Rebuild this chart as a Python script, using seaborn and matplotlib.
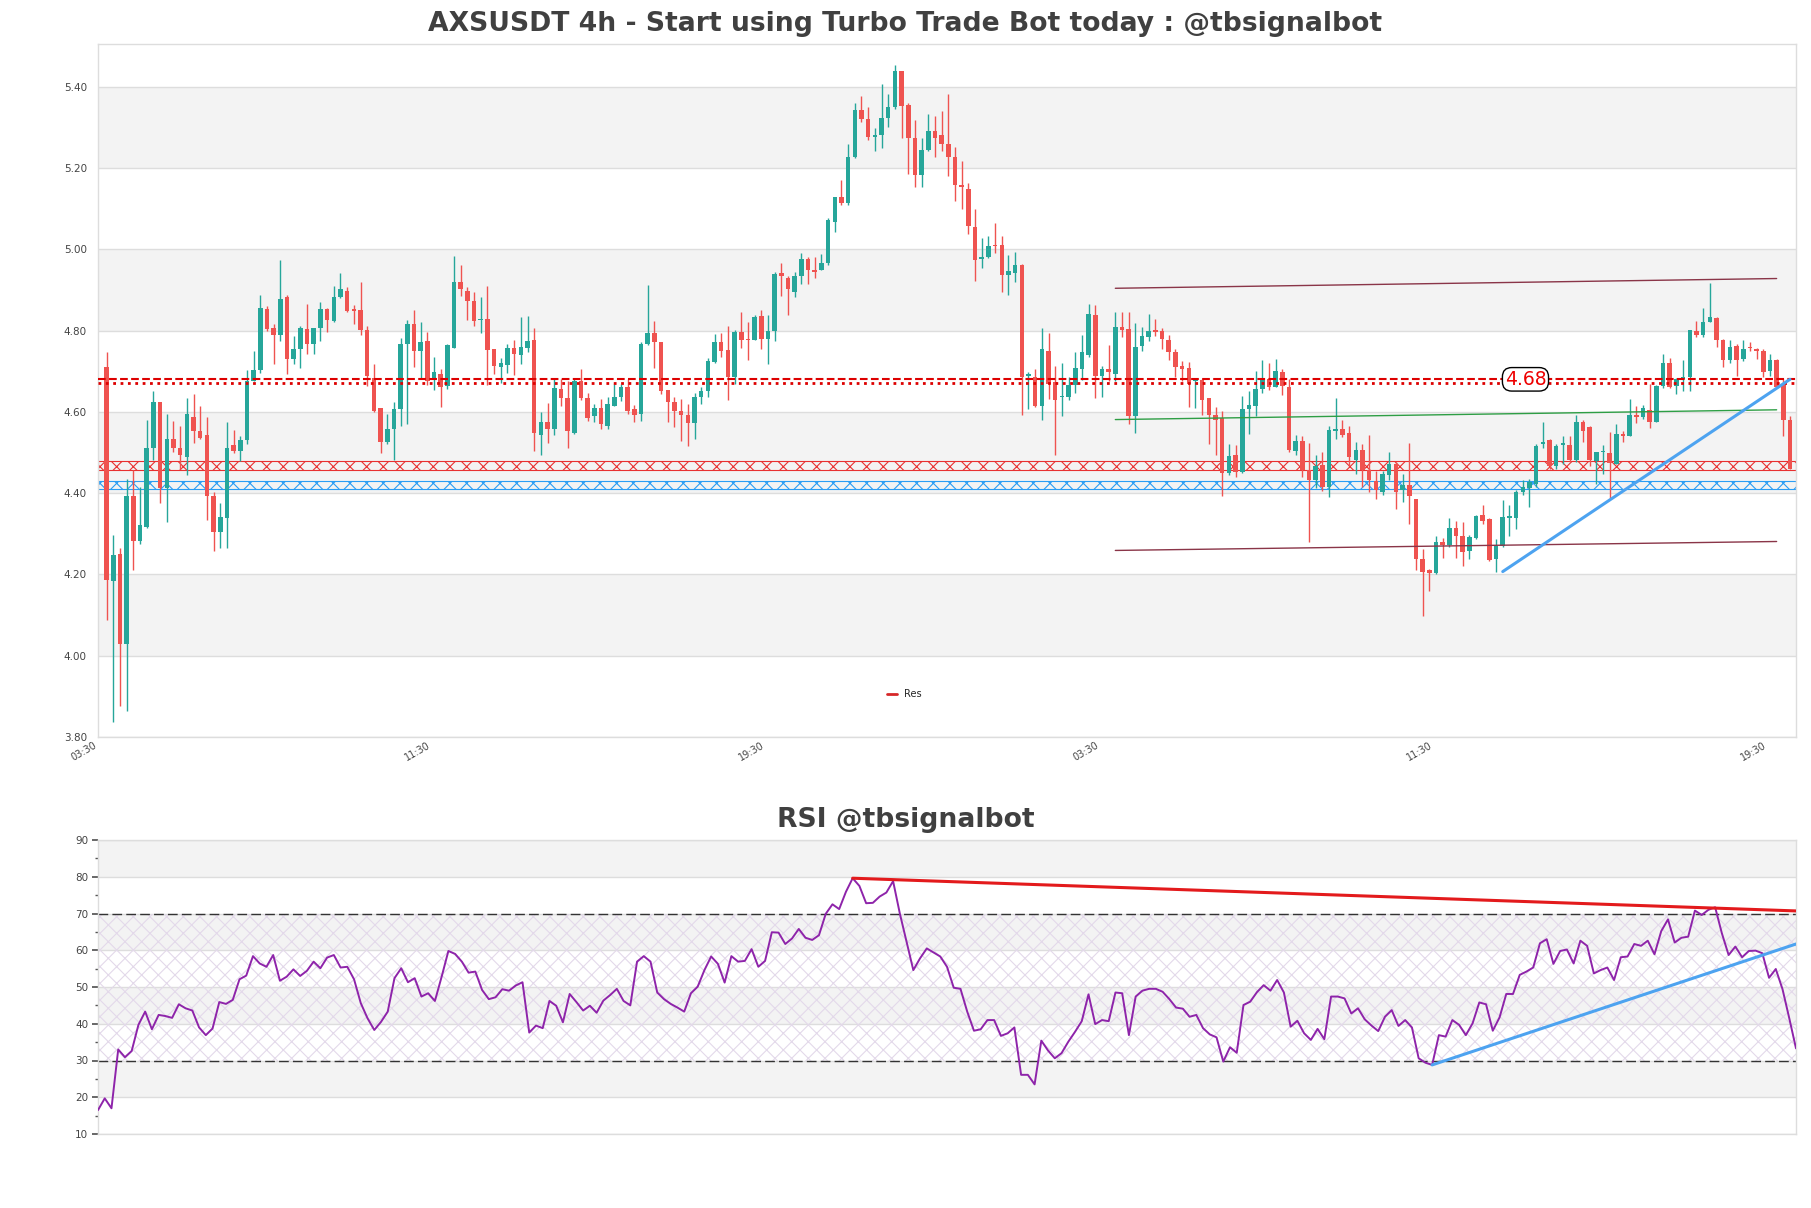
import numpy as np
import pandas as pd
import matplotlib
matplotlib.use("Agg")
import matplotlib.pyplot as plt
import seaborn as sns
from matplotlib.lines import Line2D
from matplotlib.ticker import MultipleLocator

# ---------------- data ----------------
opens = [4.71, 4.185, 4.251, 4.029, 4.394, 4.281, 4.317, 4.511, 4.623, 4.413,
         4.534, 4.512, 4.49, 4.587, 4.552, 4.543, 4.392, 4.305, 4.339, 4.519,
         4.504, 4.531, 4.677, 4.702, 4.853, 4.807, 4.79, 4.882, 4.729, 4.755,
         4.804, 4.766, 4.807, 4.853, 4.823, 4.882, 4.897, 4.853, 4.851, 4.801,
         4.684, 4.609, 4.526, 4.559, 4.606, 4.768, 4.817, 4.749, 4.774, 4.68,
         4.694, 4.664, 4.757, 4.919, 4.898, 4.873, 4.826, 4.829, 4.754, 4.71,
         4.716, 4.757, 4.741, 4.757, 4.776, 4.543, 4.574, 4.559, 4.655, 4.633,
         4.548, 4.675, 4.634, 4.589, 4.609, 4.565, 4.614, 4.636, 4.662, 4.606,
         4.594, 4.768, 4.794, 4.771, 4.654, 4.625, 4.603, 4.592, 4.572, 4.636,
         4.651, 4.722, 4.772, 4.752, 4.686, 4.796, 4.779, 4.776, 4.836, 4.779,
         4.799, 4.941, 4.93, 4.895, 4.933, 4.977, 4.948, 4.948, 4.966, 5.066,
         5.128, 5.115, 5.228, 5.343, 5.321, 5.276, 5.282, 5.323, 5.351, 5.439,
         5.356, 5.274, 5.183, 5.243, 5.29, 5.28, 5.26, 5.227, 5.159, 5.148,
         5.054, 4.975, 4.981, 5.008, 5.01, 4.936, 4.942, 4.961, 4.688, 4.686,
         4.614, 4.75, 4.673, 4.636, 4.636, 4.666, 4.706, 4.741, 4.838, 4.689,
         4.706, 4.694, 4.809, 4.804, 4.589, 4.763, 4.785, 4.801, 4.799, 4.777,
         4.746, 4.713, 4.708, 4.675, 4.678, 4.633, 4.592, 4.584, 4.449, 4.493,
         4.451, 4.606, 4.614, 4.655, 4.68, 4.66, 4.697, 4.66, 4.504, 4.528,
         4.458, 4.433, 4.469, 4.416, 4.554, 4.559, 4.548, 4.482, 4.506, 4.458,
         4.431, 4.402, 4.444, 4.471, 4.408, 4.42, 4.386, 4.237, 4.21, 4.204,
         4.279, 4.273, 4.314, 4.295, 4.257, 4.29, 4.347, 4.337, 4.237, 4.27,
         4.339, 4.339, 4.402, 4.413, 4.422, 4.521, 4.53, 4.466, 4.519, 4.519,
         4.482, 4.574, 4.562, 4.48, 4.501, 4.499, 4.471, 4.545, 4.541, 4.592,
         4.587, 4.605, 4.576, 4.664, 4.719, 4.664, 4.68, 4.686, 4.799, 4.79,
         4.821, 4.832, 4.777, 4.727, 4.763, 4.73, 4.76, 4.755, 4.75, 4.70,
         4.727, 4.667, 4.581]
highs = [4.746, 4.297, 4.266, 4.435, 4.458, 4.416, 4.58, 4.651, 4.625, 4.595,
         4.578, 4.565, 4.633, 4.644, 4.614, 4.587, 4.402, 4.375, 4.574, 4.556,
         4.541, 4.702, 4.75, 4.888, 4.86, 4.817, 4.973, 4.887, 4.787, 4.811,
         4.865, 4.807, 4.87, 4.856, 4.909, 4.942, 4.908, 4.862, 4.92, 4.812,
         4.717, 4.609, 4.595, 4.625, 4.782, 4.826, 4.851, 4.82, 4.796, 4.735,
         4.706, 4.768, 4.983, 4.961, 4.908, 4.895, 4.882, 4.91, 4.754, 4.733,
         4.766, 4.776, 4.834, 4.837, 4.807, 4.599, 4.622, 4.684, 4.68, 4.675,
         4.684, 4.706, 4.647, 4.62, 4.631, 4.636, 4.669, 4.669, 4.68, 4.618,
         4.771, 4.911, 4.824, 4.771, 4.654, 4.636, 4.631, 4.62, 4.647, 4.662,
         4.732, 4.791, 4.794, 4.81, 4.801, 4.845, 4.82, 4.838, 4.851, 4.838,
         4.944, 4.966, 4.933, 4.944, 4.991, 4.981, 4.981, 4.988, 5.076, 5.128,
         5.17, 5.258, 5.36, 5.376, 5.349, 5.299, 5.406, 5.381, 5.454, 5.439,
         5.36, 5.318, 5.274, 5.332, 5.327, 5.34, 5.381, 5.252, 5.216, 5.162,
         5.098, 5.027, 5.032, 5.065, 5.032, 4.986, 4.994, 4.963, 4.697, 4.706,
         4.807, 4.794, 4.713, 4.719, 4.686, 4.746, 4.79, 4.865, 4.862, 4.713,
         4.765, 4.845, 4.845, 4.845, 4.818, 4.809, 4.84, 4.829, 4.807, 4.79,
         4.754, 4.724, 4.722, 4.684, 4.68, 4.633, 4.611, 4.603, 4.521, 4.518,
         4.64, 4.651, 4.70, 4.728, 4.719, 4.73, 4.706, 4.68, 4.543, 4.541,
         4.523, 4.493, 4.501, 4.565, 4.633, 4.581, 4.565, 4.526, 4.521, 4.543,
         4.455, 4.455, 4.501, 4.477, 4.446, 4.523, 4.386, 4.262, 4.213, 4.295,
         4.29, 4.339, 4.332, 4.329, 4.297, 4.345, 4.372, 4.339, 4.288, 4.383,
         4.372, 4.408, 4.433, 4.435, 4.521, 4.574, 4.534, 4.521, 4.54, 4.54,
         4.592, 4.581, 4.565, 4.502, 4.518, 4.551, 4.57, 4.554, 4.631, 4.614,
         4.618, 4.669, 4.666, 4.743, 4.733, 4.684, 4.728, 4.801, 4.823, 4.856,
         4.917, 4.834, 4.779, 4.776, 4.768, 4.776, 4.771, 4.757, 4.754, 4.743,
         4.73, 4.68, 4.589]
lows = [4.089, 3.837, 3.877, 3.863, 4.212, 4.276, 4.314, 4.482, 4.375, 4.33,
        4.50, 4.46, 4.444, 4.523, 4.532, 4.334, 4.257, 4.265, 4.265, 4.499,
        4.48, 4.521, 4.677, 4.696, 4.80, 4.718, 4.774, 4.694, 4.717, 4.707,
        4.743, 4.743, 4.774, 4.796, 4.82, 4.879, 4.845, 4.816, 4.788, 4.664,
        4.60, 4.499, 4.521, 4.482, 4.564, 4.57, 4.71, 4.684, 4.666, 4.654,
        4.611, 4.655, 4.757, 4.884, 4.826, 4.81, 4.793, 4.666, 4.694, 4.672,
        4.695, 4.691, 4.717, 4.746, 4.504, 4.495, 4.523, 4.543, 4.614, 4.512,
        4.545, 4.629, 4.578, 4.576, 4.559, 4.559, 4.614, 4.627, 4.594, 4.574,
        4.578, 4.765, 4.708, 4.644, 4.574, 4.563, 4.529, 4.515, 4.532, 4.62,
        4.636, 4.719, 4.735, 4.628, 4.669, 4.757, 4.727, 4.776, 4.754, 4.717,
        4.774, 4.885, 4.838, 4.882, 4.915, 4.914, 4.929, 4.948, 4.961, 5.043,
        5.11, 5.11, 5.225, 5.313, 5.269, 5.241, 5.249, 5.302, 5.345, 5.274,
        5.186, 5.153, 5.153, 5.241, 5.226, 5.241, 5.18, 5.118, 5.10, 5.038,
        4.922, 4.955, 4.978, 4.99, 4.895, 4.887, 4.919, 4.592, 4.606, 4.611,
        4.581, 4.631, 4.493, 4.589, 4.628, 4.647, 4.678, 4.735, 4.634, 4.636,
        4.677, 4.675, 4.785, 4.57, 4.548, 4.75, 4.774, 4.787, 4.754, 4.728,
        4.686, 4.675, 4.612, 4.609, 4.592, 4.521, 4.495, 4.394, 4.444, 4.44,
        4.449, 4.545, 4.589, 4.647, 4.653, 4.66, 4.642, 4.501, 4.495, 4.44,
        4.279, 4.413, 4.405, 4.391, 4.532, 4.537, 4.466, 4.446, 4.416, 4.402,
        4.386, 4.396, 4.433, 4.361, 4.378, 4.323, 4.211, 4.097, 4.16, 4.202,
        4.24, 4.268, 4.24, 4.22, 4.238, 4.288, 4.323, 4.232, 4.207, 4.268,
        4.295, 4.312, 4.396, 4.367, 4.416, 4.512, 4.46, 4.46, 4.471, 4.477,
        4.477, 4.526, 4.466, 4.422, 4.447, 4.389, 4.471, 4.526, 4.541, 4.572,
        4.583, 4.561, 4.574, 4.658, 4.658, 4.645, 4.651, 4.651, 4.785, 4.785,
        4.821, 4.76, 4.71, 4.721, 4.689, 4.726, 4.749, 4.73, 4.686, 4.689,
        4.658, 4.541, 4.46]
closes = [4.186, 4.249, 4.029, 4.394, 4.281, 4.321, 4.511, 4.623, 4.413, 4.534,
          4.512, 4.493, 4.595, 4.552, 4.535, 4.392, 4.305, 4.342, 4.511, 4.504,
          4.531, 4.677, 4.702, 4.856, 4.804, 4.79, 4.878, 4.729, 4.755, 4.807,
          4.766, 4.807, 4.853, 4.826, 4.882, 4.903, 4.849, 4.849, 4.801, 4.688,
          4.603, 4.526, 4.559, 4.606, 4.768, 4.817, 4.749, 4.773, 4.677, 4.697,
          4.66, 4.765, 4.919, 4.902, 4.873, 4.823, 4.829, 4.751, 4.712, 4.72,
          4.757, 4.742, 4.76, 4.774, 4.548, 4.574, 4.559, 4.658, 4.633, 4.552,
          4.675, 4.634, 4.584, 4.609, 4.57, 4.62, 4.636, 4.662, 4.603, 4.592,
          4.768, 4.794, 4.771, 4.651, 4.623, 4.601, 4.592, 4.572, 4.636, 4.651,
          4.724, 4.772, 4.749, 4.686, 4.796, 4.776, 4.776, 4.834, 4.779, 4.799,
          4.939, 4.933, 4.903, 4.933, 4.977, 4.948, 4.944, 4.966, 5.071, 5.128,
          5.113, 5.228, 5.343, 5.321, 5.276, 5.282, 5.323, 5.351, 5.439, 5.353,
          5.274, 5.183, 5.243, 5.29, 5.274, 5.26, 5.227, 5.159, 5.153, 5.057,
          4.974, 4.981, 5.008, 5.007, 4.937, 4.947, 4.961, 4.686, 4.694, 4.614,
          4.754, 4.669, 4.628, 4.64, 4.667, 4.708, 4.746, 4.84, 4.689, 4.706,
          4.699, 4.809, 4.801, 4.589, 4.76, 4.787, 4.799, 4.796, 4.779, 4.746,
          4.71, 4.705, 4.669, 4.68, 4.628, 4.592, 4.581, 4.449, 4.491, 4.451,
          4.606, 4.617, 4.655, 4.68, 4.66, 4.70, 4.664, 4.506, 4.528, 4.458,
          4.433, 4.466, 4.416, 4.556, 4.559, 4.543, 4.488, 4.506, 4.458, 4.433,
          4.408, 4.446, 4.471, 4.402, 4.419, 4.392, 4.237, 4.207, 4.204, 4.279,
          4.273, 4.314, 4.295, 4.255, 4.292, 4.343, 4.332, 4.235, 4.271, 4.342,
          4.343, 4.402, 4.416, 4.427, 4.515, 4.526, 4.466, 4.515, 4.523, 4.482,
          4.574, 4.554, 4.482, 4.501, 4.504, 4.473, 4.545, 4.541, 4.592, 4.587,
          4.609, 4.576, 4.664, 4.719, 4.662, 4.68, 4.686, 4.801, 4.79, 4.821,
          4.834, 4.777, 4.727, 4.76, 4.728, 4.755, 4.757, 4.749, 4.697, 4.727,
          4.66, 4.581, 4.46]
rsi = [16.5, 19.7, 17.0, 33.0, 30.9, 32.6, 39.7, 43.3, 38.5, 42.4,
       42.1, 41.6, 45.3, 44.2, 43.6, 39.0, 36.9, 38.7, 45.9, 45.4,
       46.5, 52.1, 53.1, 58.4, 56.4, 55.5, 58.7, 51.7, 52.8, 54.8,
       53.0, 54.4, 56.9, 55.1, 58.0, 58.7, 55.3, 55.5, 52.1, 45.6,
       41.5, 38.3, 40.5, 43.3, 52.4, 55.1, 51.3, 52.4, 47.4, 48.3,
       46.2, 52.8, 59.8, 59.0, 56.9, 53.9, 54.2, 49.2, 46.7, 47.2,
       49.4, 49.0, 50.4, 51.3, 37.6, 39.5, 38.8, 46.2, 44.9, 40.4,
       48.1, 45.9, 43.6, 44.9, 43.0, 46.3, 47.8, 49.5, 46.2, 45.0,
       56.9, 58.4, 56.9, 48.5, 46.7, 45.4, 44.4, 43.3, 48.3, 50.1,
       54.6, 58.3, 56.3, 51.2, 58.4, 56.9, 57.1, 60.3, 55.5, 57.1,
       64.9, 64.8, 61.7, 63.2, 65.8, 63.4, 62.8, 64.1, 69.9, 72.5,
       71.2, 75.9, 79.6, 77.5, 72.8, 72.9, 74.6, 75.7, 78.8, 70.0,
       62.3, 54.6, 57.8, 60.5, 59.4, 58.3, 55.5, 49.8, 49.5, 43.3,
       38.1, 38.5, 41.0, 41.0, 36.7, 37.4, 39.0, 26.1, 26.1, 23.5,
       35.4, 32.7, 30.6, 32.0, 35.1, 37.8, 40.7, 48.0, 39.9, 41.0,
       40.7, 48.5, 48.3, 36.9, 47.4, 49.0, 49.5, 49.5, 48.7, 46.7,
       44.4, 44.1, 41.9, 42.4, 38.8, 37.1, 36.3, 29.7, 33.6, 32.1,
       45.1, 46.0, 48.6, 50.5, 49.0, 51.9, 48.5, 39.2, 40.8, 37.4,
       35.6, 38.6, 35.8, 47.4, 47.4, 46.9, 42.8, 44.2, 41.2, 39.5,
       38.0, 41.9, 43.7, 39.4, 41.0, 39.0, 30.6, 29.4, 28.8, 36.9,
       36.5, 41.0, 39.7, 36.9, 40.1, 45.8, 45.3, 38.1, 41.7, 48.1,
       48.1, 53.3, 54.2, 55.3, 61.9, 63.0, 56.3, 59.8, 60.2, 56.4,
       62.6, 61.2, 53.7, 54.6, 55.3, 51.9, 58.1, 58.3, 61.7, 61.2,
       62.6, 58.9, 65.2, 68.4, 62.1, 63.4, 63.7, 70.8, 69.6, 71.0,
       71.7, 64.6, 58.7, 61.0, 58.1, 59.8, 59.9, 59.2, 52.5, 54.9,
       49.4, 41.5, 33.3]

time_labels = ["03:30", "11:30", "19:30", "03:30", "11:30", "19:30"]
label_candles = [-1.3, 48.7, 98.7, 148.7, 198.7, 248.7]
price_ticks = [3.80, 4.00, 4.20, 4.40, 4.60, 4.80, 5.00, 5.20, 5.40]
rsi_ticks = [10, 20, 30, 40, 50, 60, 70, 80, 90]

res_level = 4.68
res_level2 = 4.671
res_zone = (4.458, 4.480)
sup_zone = (4.409, 4.431)
chan_x = [151, 250]
chan_upper = [4.904, 4.928]
chan_mid = [4.581, 4.605]
chan_lower = [4.259, 4.281]
trend_x = [209, 252]
trend_y = [4.207, 4.680]
rsi_res_x = [112, 252]
rsi_res_y = [79.6, 70.7]
rsi_sup_x = [198, 252]
rsi_sup_y = [28.8, 61.7]

title = "AXSUSDT 4h - Start using Turbo Trade Bot today : @tbsignalbot"
rsi_title = "RSI @tbsignalbot"

# ---------------- style ----------------
sns.set_theme(style="white")
plt.rcParams["font.family"] = ["DejaVu Sans"]
plt.rcParams["hatch.linewidth"] = 0.8

GREEN = "#26a69a"
RED = "#ef5350"
BAND = "#f3f3f3"
GRID = "#dddddd"
TXT = "#444444"

df = pd.DataFrame({"open": opens, "high": highs, "low": lows, "close": closes})
df["x"] = np.arange(len(df))
df["up"] = df["close"] >= df["open"]

W, H = 1811, 1208
fig = plt.figure(figsize=(W / 100, H / 100), dpi=100)
ax = fig.add_axes([98 / W, 1 - 737 / H, (1796 - 98) / W, (737 - 44) / H])
ax2 = fig.add_axes([98 / W, 1 - 1134 / H, (1796 - 98) / W, (1134 - 840) / H])

# ---------------- main chart ----------------
ax.set_ylim(3.80, 5.505)
ax.set_xlim(-0.95, len(df) - 0.1)
for lo in [4.0, 4.4, 4.8, 5.2]:
    ax.axhspan(lo, lo + 0.2, color=BAND, zorder=0, lw=0)
ax.set_yticks(price_ticks)
ax.set_yticklabels([f"{v:.2f}" for v in price_ticks])
ax.yaxis.grid(True, color=GRID, lw=1, zorder=0.5)
ax.set_axisbelow(True)

colors = np.where(df["up"], GREEN, RED)
ax.vlines(df["x"], df["low"], df["high"], colors=colors, lw=1.0, zorder=3)
body_bottom = np.minimum(df["open"], df["close"])
body_h = np.maximum((df["close"] - df["open"]).abs(), 0.003)
ax.bar(df["x"], body_h, bottom=body_bottom, width=0.68, color=colors, lw=0, zorder=4)

ax.axhspan(*res_zone, facecolor="none", edgecolor="#e83030", hatch="xx", lw=0.8, zorder=2)
ax.axhspan(*sup_zone, facecolor="none", edgecolor="#2a9df4", hatch="xx", lw=0.8, zorder=2)
ax.axhline(res_level, color="#dd0000", ls="--", lw=1.5, zorder=5)
ax.axhline(res_level2, color="#dd0000", ls=":", lw=2.0, zorder=5)

ax.plot(chan_x, chan_upper, color="#8a3548", lw=1.0, zorder=5)
ax.plot(chan_x, chan_lower, color="#8a3548", lw=1.0, zorder=5)
ax.plot(chan_x, chan_mid, color="#2e9e45", lw=1.0, zorder=5)
ax.plot(trend_x, trend_y, color="#4da3f0", lw=2.2, zorder=6)

ax.text(212.4, res_level, f"{res_level:.2f}", color="#ee0000", fontsize=13.5,
        ha="center", va="center", zorder=7,
        bbox=dict(boxstyle="round,pad=0.12,rounding_size=0.5", fc="white", ec="black", lw=1))

ax.legend(handles=[Line2D([0], [0], color="#d62728", lw=2)], labels=["Res"],
          loc="center", bbox_to_anchor=(0.475, 0.062), frameon=False,
          fontsize=7, handlelength=1.0, handletextpad=0.8)

ax.set_xticks(label_candles)
ax.set_xticklabels(time_labels, rotation=30, ha="right", fontsize=7, color=TXT)
ax.tick_params(axis="x", length=0, pad=2)
ax.tick_params(axis="y", length=0, pad=8, labelsize=7.5, labelcolor=TXT)
for s in ax.spines.values():
    s.set_color(GRID)
    s.set_linewidth(1)

# ---------------- RSI ----------------
ax2.set_ylim(10, 90)
ax2.set_xlim(0, len(rsi) - 1)
for lo in [20, 40, 60, 80]:
    ax2.axhspan(lo, lo + 10, color=BAND, zorder=0, lw=0)
ax2.axhspan(30, 70, facecolor="none", edgecolor="#e3d9ea", hatch="xx", lw=0, zorder=0.8)
ax2.set_yticks(rsi_ticks)
ax2.yaxis.set_minor_locator(MultipleLocator(5))
ax2.yaxis.grid(True, color=GRID, lw=1, zorder=0.5)
ax2.set_axisbelow(True)
ax2.axhline(70, color="#333333", ls=(0, (7, 3)), lw=1, zorder=2)
ax2.axhline(30, color="#333333", ls=(0, (7, 3)), lw=1, zorder=2)
sns.lineplot(x=np.arange(len(rsi)), y=rsi, ax=ax2, color="#8e24aa", lw=1.4, zorder=3)
ax2.plot(rsi_res_x, rsi_res_y, color="#e31a1c", lw=2.2, zorder=4)
ax2.plot(rsi_sup_x, rsi_sup_y, color="#4da3f0", lw=2.2, zorder=4)
ax2.set_xticks([])
ax2.set_xlabel("")
ax2.set_ylabel("")
ax2.tick_params(axis="y", which="major", length=4, color="#555555", pad=3,
                labelsize=7.5, labelcolor=TXT, left=True)
ax2.tick_params(axis="y", which="minor", length=2.5, color="#555555", left=True)
for s in ax2.spines.values():
    s.set_color(GRID)
    s.set_linewidth(1)

# ---------------- titles ----------------
fig.text(0.5, 1 - 24 / H, title, ha="center", va="center", fontsize=19.2,
         fontweight="bold", color="#404040")
fig.text(0.5, 1 - 820 / H, rsi_title, ha="center", va="center", fontsize=19.2,
         fontweight="bold", color="#404040")

fig.savefig("out.png", dpi=100, facecolor="white")
